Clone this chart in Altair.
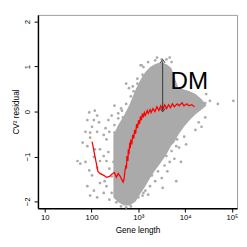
import altair as alt
import pandas as pd

# ---- dense core of the gene cloud (log10 gene length, upper / lower residual) ----
core_loglen = [2.467, 2.570, 2.694, 2.818, 2.942, 3.045, 3.149, 3.252, 3.355, 3.479,
               3.603, 3.707, 3.769, 3.851, 3.975, 4.099, 4.223, 4.347, 4.450]
core_upper = [-0.52, -0.30, -0.09, 0.17, 0.49, 0.71, 0.88, 0.99, 1.05, 1.10,
              1.05, 0.97, 0.77, 0.54, 0.49, 0.45, 0.39, 0.28, 0.15]
core_lower = [-1.91, -2.02, -2.09, -2.09, -2.00, -1.83, -1.66, -1.48, -1.31, -1.14,
              -0.95, -0.75, -0.69, -0.52, -0.34, -0.19, -0.06, 0.04, 0.13]

# ---- individual genes outside the dense core ----
pts_loglen = [1.95, 2.07, 2.12, 2.05, 2.16, 1.91, 2.01, 1.87, 1.97, 2.12, 2.30, 2.36, 2.26, 2.49,
              2.49, 2.43, 2.57, 2.63, 2.67, 2.74, 2.80, 2.88, 3.07, 3.11, 1.97, 1.81, 1.91, 1.76,
              1.87, 2.05, 1.95, 2.01, 2.12, 2.18, 2.26, 2.32, 2.36, 1.91, 2.05, 1.97, 2.12, 2.26,
              2.32, 2.43, 2.38, 2.28, 2.18, 2.43, 2.38, 2.47, 2.18, 2.07, 1.70,
              3.05, 3.11, 3.21, 3.36, 3.40, 3.50, 3.60, 3.67, 3.71, 3.62, 2.98, 3.09, 4.45, 4.53,
              4.43, 4.33, 4.29, 4.35, 4.43, 4.22, 4.70, 5.03,
              3.87, 3.91, 3.81, 3.52, 3.62, 3.77, 3.67, 3.50, 3.42, 3.36, 3.25, 3.15, 3.09, 3.21,
              3.56, 3.83, 3.98, 4.02, 3.81, 3.71, 3.60, 3.31, 3.29, 3.00, 3.11,
              2.53, 2.74, 2.84, 2.63,
              2.32, 2.38, 2.49, 2.57, 2.65, 2.74, 2.84, 2.90, 2.98]
pts_resid = [-0.02, 0.02, -0.09, -0.19, -0.24, -0.19, -0.34, -0.45, -0.47, -0.45, -0.37, -0.19, -0.52, -0.47,
             0.13, -0.09, -0.04, 0.07, -0.13, 0.62, 0.52, 0.56, 1.03, 0.77, -0.58, -0.69, -0.77, -1.16,
             -1.12, -1.01, -1.31, -1.42, -1.25, -1.10, -0.99, -1.10, -0.90, -1.66, -1.76, -1.87, -1.91, -1.81,
             -1.66, -1.81, -1.96, -1.55, -1.59, -1.44, -1.27, -1.12, -0.84, -0.84, -1.10,
             1.03, 0.99, 1.10, 1.14, 1.20, 1.16, 1.16, 1.20, 1.10, 0.95, 0.73, 0.82, 0.39, 0.24,
             0.19, 0.17, -0.24, -0.34, -0.13, -0.41, 0.17, 0.24,
             -0.80, -1.12, -1.55, -1.70, -1.33, -1.05, -1.12, -1.48, -1.33, -1.55, -1.66, -1.76, -1.87, -1.85,
             -1.20, -0.62, -0.56, -0.73, -0.77, -0.88, -0.99, -1.27, -1.42, -1.91, -1.81,
             -2.02, -2.13, -2.11, -2.11,
             -0.62, -0.45, -0.30, -0.15, 0.02, 0.17, 0.34, 0.45, 0.62]

# ---- running median (red line) ----
med_loglen = [2.012, 2.136, 2.178, 2.260, 2.322, 2.384, 2.426, 2.488, 2.529, 2.570, 2.612, 2.632,
              2.674, 2.694, 2.715, 2.736, 2.746, 2.756, 2.777, 2.787, 2.798, 2.818, 2.829, 2.839,
              2.860, 2.880, 2.901, 2.921, 2.942, 2.963, 2.983, 3.004, 3.025, 3.045, 3.066, 3.087,
              3.107, 3.128, 3.149, 3.190, 3.211, 3.252, 3.273, 3.314, 3.355, 3.397, 3.438, 3.479,
              3.521, 3.562, 3.603, 3.645, 3.686, 3.727, 3.769, 3.831, 3.872, 3.934, 3.975, 4.037,
              4.079, 4.140, 4.202]
med_resid = [-0.667, -1.333, -1.376, -1.419, -1.462, -1.441, -1.398, -1.355, -1.462, -1.376, -1.441, -1.484,
             -1.570, -1.505, -1.312, -1.183, -1.269, -0.989, -1.097, -0.839, -0.946, -0.688, -0.817, -0.624,
             -0.731, -0.516, -0.602, -0.409, -0.495, -0.280, -0.366, -0.194, -0.280, -0.108, -0.194, -0.043,
             -0.129, -0.022, -0.086, 0.022, -0.043, 0.043, -0.022, 0.065, 0.000, 0.108, 0.022, 0.129,
             0.043, 0.151, 0.065, 0.151, 0.086, 0.172, 0.108, 0.172, 0.129, 0.194, 0.129, 0.172,
             0.129, 0.151, 0.108]

# ---- DM annotation ----
arrow_loglen = 3.52
arrow_bottom = 0.03
arrow_top = 1.12
dm_text = "DM"
dm_loglen = 3.686
dm_resid = 0.495

x_ticks = [10, 100, 1000, 10000, 100000]
x_tick_labels = ["10", "100", "10³", "10⁴", "10⁵"]
y_ticks = [-2, -1, 0, 1, 2]

GRAY = "#aaaaaa"
FONT = "Liberation Sans"

core = pd.DataFrame({"len": [10 ** v for v in core_loglen], "lo": core_lower, "hi": core_upper})
pts = pd.DataFrame({"len": [10 ** v for v in pts_loglen], "r": pts_resid})
med = pd.DataFrame({"len": [10 ** v for v in med_loglen], "r": med_resid, "o": list(range(len(med_loglen)))})
arrow = pd.DataFrame({"len": [10 ** arrow_loglen], "lo": [arrow_bottom], "hi": [arrow_top]})
dm = pd.DataFrame({"len": [10 ** dm_loglen], "r": [dm_resid], "t": [dm_text]})

label_expr = ""
for v, t in zip(x_ticks, x_tick_labels):
    label_expr += f"datum.value == {v} ? '{t}' : "
label_expr += "''"

xscale = alt.Scale(type="log", domain=[7.16, 128800], nice=False)
yscale = alt.Scale(domain=[-2.15, 2.15], nice=False, zero=False)

common_axis = dict(grid=False, domainColor="#000000", domainWidth=1.5, tickColor="#000000",
                   tickSize=4, tickWidth=1, labelFont=FONT, labelFontSize=8, labelColor="#000000",
                   titleFont=FONT, titleFontSize=8.5, titleFontWeight="normal", titleColor="#000000")

xaxis = alt.Axis(values=x_ticks, labelExpr=label_expr, title="Gene length",
                 labelPadding=2, titlePadding=4, **common_axis)
yaxis = alt.Axis(values=y_ticks, title="CV² residual", labelAngle=270,
                 labelAlign="center", labelBaseline="bottom", labelPadding=3, titlePadding=3,
                 **common_axis)

X = alt.X("len:Q", scale=xscale, axis=xaxis)

core_layer = alt.Chart(core).mark_area(color=GRAY, opacity=1).encode(
    x=X, y=alt.Y("lo:Q", scale=yscale, axis=yaxis), y2="hi:Q")

pts_layer = alt.Chart(pts).mark_circle(color=GRAY, size=8, opacity=1).encode(
    x=alt.X("len:Q", scale=xscale), y=alt.Y("r:Q", scale=yscale))

med_layer = alt.Chart(med).mark_line(color="#ff0000", strokeWidth=1.3).encode(
    x=alt.X("len:Q", scale=xscale), y=alt.Y("r:Q", scale=yscale), order="o:Q")

arrow_rule = alt.Chart(arrow).mark_rule(color="#333333", strokeWidth=1).encode(
    x=alt.X("len:Q", scale=xscale), y=alt.Y("lo:Q", scale=yscale), y2="hi:Q")
arrow_up = alt.Chart(arrow).mark_point(shape="M-1,0.7L0,-0.7L1,0.7", size=25, filled=False,
                                       color="#333333", strokeWidth=1, opacity=1).encode(
    x=alt.X("len:Q", scale=xscale), y=alt.Y("hi:Q", scale=yscale))
arrow_dn = alt.Chart(arrow).mark_point(shape="M-1,-0.7L0,0.7L1,-0.7", size=25, filled=False,
                                       color="#333333", strokeWidth=1, opacity=1).encode(
    x=alt.X("len:Q", scale=xscale), y=alt.Y("lo:Q", scale=yscale))

dm_layer = alt.Chart(dm).mark_text(font=FONT, fontSize=25, align="left",
                                   baseline="alphabetic", color="#000000").encode(
    x=alt.X("len:Q", scale=xscale), y=alt.Y("r:Q", scale=yscale), text="t:N")

chart = alt.layer(core_layer, pts_layer, med_layer, arrow_rule, arrow_up, arrow_dn, dm_layer).properties(
    width=206, height=200,
    background="white",
    autosize=alt.AutoSizeParams(type="none"),
    padding={"left": 31, "top": 3, "right": 2, "bottom": 36},
).configure_view(stroke="#999999", strokeWidth=1)

chart.save("out.html", embed_options={"renderer": "svg", "actions": False})
